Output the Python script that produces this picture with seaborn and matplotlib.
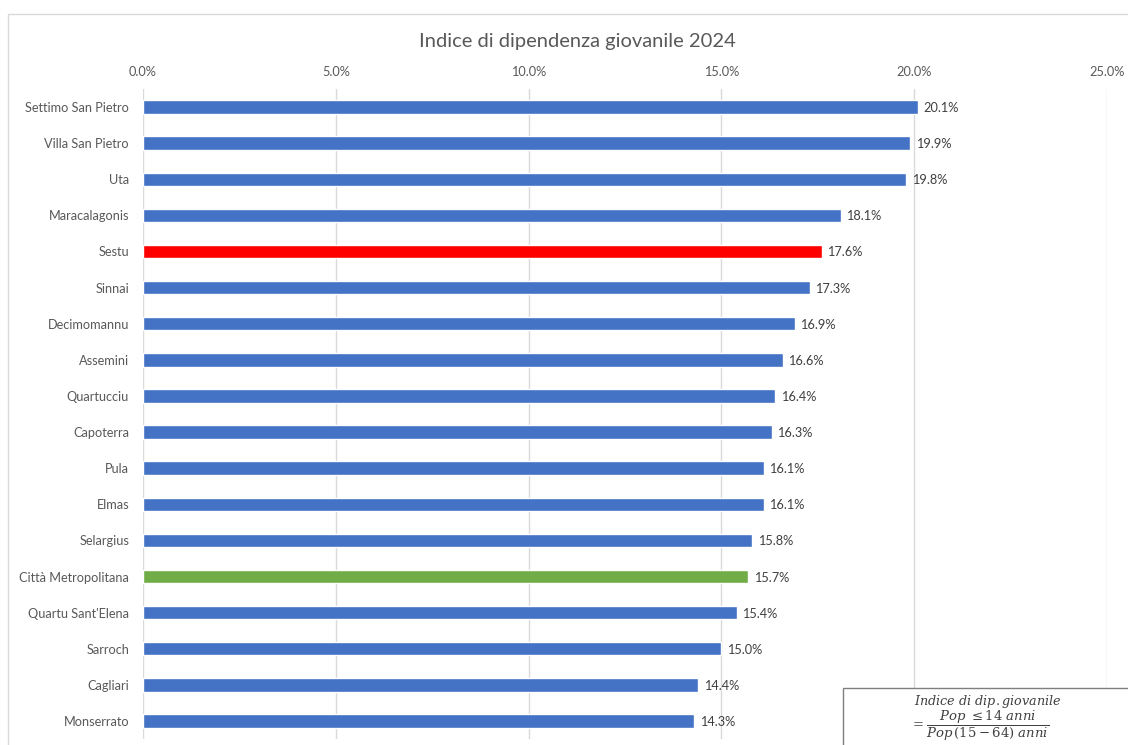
import matplotlib
matplotlib.use("Agg")
import matplotlib.pyplot as plt
import matplotlib.ticker as mticker
from matplotlib.patches import Rectangle
import seaborn as sns
import pandas as pd

comuni = [
    "Settimo San Pietro", "Villa San Pietro", "Uta", "Maracalagonis", "Sestu",
    "Sinnai", "Decimomannu", "Assemini", "Quartucciu", "Capoterra", "Pula",
    "Elmas", "Selargius", "Città Metropolitana", "Quartu Sant'Elena",
    "Sarroch", "Cagliari", "Monserrato",
]
indice = [20.1, 19.9, 19.8, 18.1, 17.6, 17.3, 16.9, 16.6, 16.4, 16.3, 16.1,
          16.1, 15.8, 15.7, 15.4, 15.0, 14.4, 14.3]
x_ticks = [0, 5, 10, 15, 20, 25]

BLUE, RED, GREEN = "#4472C4", "#FF0000", "#70AD47"
colori = {c: BLUE for c in comuni}
colori["Sestu"] = RED
colori["Città Metropolitana"] = GREEN

df = pd.DataFrame({"comune": comuni, "indice": indice})

sns.set_theme(style="white")
plt.rcParams["font.family"] = ["Lato", "DejaVu Sans"]
TXT = "#595959"

fig = plt.figure(figsize=(11.28, 7.45), dpi=100)
ax = fig.add_axes([143 / 1128, 1 - 739 / 745, 964 / 1128, 650 / 745])

sns.barplot(data=df, y="comune", x="indice", hue="comune", palette=colori,
            legend=False, orient="h", width=0.37, ax=ax, saturation=1)

ax.set_xlim(0, 25)
ax.set_xticks(x_ticks)
ax.xaxis.set_major_formatter(mticker.FuncFormatter(lambda v, p: f"{v:.1f}%"))
ax.xaxis.tick_top()
ax.tick_params(axis="x", length=0, pad=8, labelsize=9.2, labelcolor=TXT)
ax.tick_params(axis="y", length=0, pad=10, labelsize=9.2, labelcolor=TXT)
ax.set_xlabel("")
ax.set_ylabel("")
ax.grid(axis="x", color="#D9D9D9", linewidth=1)
ax.set_axisbelow(True)
for s in ax.spines.values():
    s.set_visible(False)

for i, v in enumerate(indice):
    ax.text(v + 0.14, i, f"{v:.1f}%", va="center_baseline", ha="left",
            fontsize=9.2, color="#404040")

fig.text(577 / 1128, 1 - 41 / 745, "Indice di dipendenza giovanile 2024",
         ha="center", va="center", fontsize=14.5, color=TXT)

# outer chart frame
fig.patches.append(Rectangle((8 / 1128, -0.05), 1.2, 1 - 14 / 745 + 0.05,
                             transform=fig.transFigure, fill=False,
                             edgecolor="#D9D9D9", linewidth=1))

# formula box
fig.patches.append(Rectangle((843 / 1128, -0.05), 0.5, 0.05 + 57 / 745,
                             transform=fig.transFigure, facecolor="white",
                             edgecolor="#7F7F7F", linewidth=1, zorder=5))
plt.rcParams["mathtext.fontset"] = "dejavuserif"
fig.text(988 / 1128, 1 - 702 / 745, r"$\mathit{Indice\ di\ dip.giovanile}$",
         ha="center", va="center", fontsize=9.2, color="#404040", zorder=6)
fig.text(980 / 1128, 1 - 726 / 745,
         r"$=\dfrac{\mathit{Pop}\ \leq 14\ \mathit{anni}}{\mathit{Pop}\,(15-64)\ \mathit{anni}}$",
         ha="center", va="center", fontsize=9.5, color="#404040", zorder=6)

fig.savefig("out.png", dpi=100)
